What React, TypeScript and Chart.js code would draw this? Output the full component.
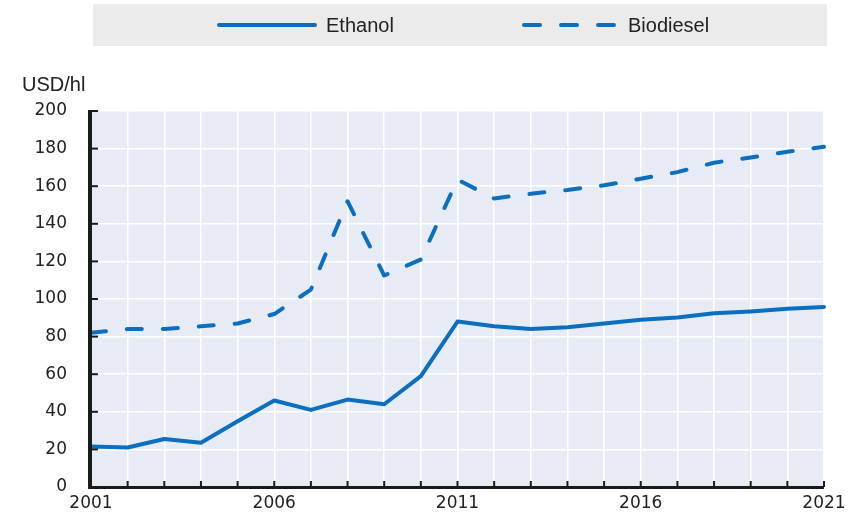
import React, { useEffect, useRef } from "react";
import { Chart, registerables } from "chart.js";

Chart.register(...registerables);

const years: string[] = [
  "2001", "2002", "2003", "2004", "2005", "2006", "2007", "2008", "2009", "2010",
  "2011", "2012", "2013", "2014", "2015", "2016", "2017", "2018", "2019", "2020", "2021",
];
const ethanol: number[] = [
  21.5, 21, 25.5, 23.5, 35, 46, 41, 46.5, 44, 59,
  88, 85.5, 84, 85, 87, 89, 90.2, 92.4, 93.4, 94.8, 95.8,
];
const biodiesel: number[] = [
  82, 84, 84, 85.5, 87, 92, 105, 152, 112.5, 121,
  163.5, 153.5, 156, 158, 160.5, 164, 167.5, 172.5, 175.3, 178.3, 181,
];
const yTicks = { min: 0, max: 200, step: 20 };
const unitLabel = "USD/hl";
const seriesNames = ["Ethanol", "Biodiesel"];

const BLUE = "#0B6EBE";

export default function App() {
  const ref = useRef<HTMLCanvasElement | null>(null);

  useEffect(() => {
    document.body.style.margin = "0";
    const canvas = ref.current;
    if (!canvas) return;

    const bgPlugin = {
      id: "bgPlugin",
      beforeDraw(chart: any) {
        const { ctx, chartArea } = chart;
        ctx.save();
        ctx.fillStyle = "#E7EBF6";
        ctx.fillRect(chartArea.left, chartArea.top, chartArea.right - chartArea.left, chartArea.bottom - chartArea.top);
        ctx.restore();
      },
    };

    const axesPlugin = {
      id: "axesPlugin",
      afterDraw(chart: any) {
        const { ctx, chartArea } = chart;
        const xs = chart.scales.x;
        const ys = chart.scales.y;
        ctx.save();
        ctx.strokeStyle = "#1a1a1a";
        ctx.lineWidth = 2;
        for (let i = 0; i < years.length; i++) {
          const px = xs.getPixelForValue(i);
          ctx.beginPath();
          ctx.moveTo(px, chartArea.bottom);
          ctx.lineTo(px, chartArea.bottom - 6);
          ctx.stroke();
        }
        for (let v = yTicks.min; v <= yTicks.max; v += yTicks.step) {
          const py = ys.getPixelForValue(v);
          ctx.beginPath();
          ctx.moveTo(chartArea.left, py);
          ctx.lineTo(chartArea.left + 7, py);
          ctx.stroke();
        }
        ctx.lineWidth = 4;
        ctx.beginPath();
        ctx.moveTo(chartArea.left - 1, chartArea.top - 1);
        ctx.lineTo(chartArea.left - 1, chartArea.bottom + 2);
        ctx.stroke();
        ctx.lineWidth = 3;
        ctx.beginPath();
        ctx.moveTo(chartArea.left - 3, chartArea.bottom + 0.5);
        ctx.lineTo(chartArea.right, chartArea.bottom + 0.5);
        ctx.stroke();

        ctx.fillStyle = "#222";
        ctx.font = '20px "Liberation Sans", Arial, sans-serif';
        ctx.textAlign = "left";
        ctx.textBaseline = "middle";
        ctx.fillText(unitLabel, 22, 85);

        ctx.fillStyle = "#EBEBEB";
        ctx.fillRect(93, 4, 734, 42);
        const ly = 25;
        ctx.strokeStyle = BLUE;
        ctx.lineWidth = 4;
        ctx.lineCap = "round";
        ctx.setLineDash([]);
        ctx.beginPath();
        ctx.moveTo(219, ly);
        ctx.lineTo(315, ly);
        ctx.stroke();
        ctx.setLineDash([16, 21]);
        ctx.beginPath();
        ctx.moveTo(524, ly);
        ctx.lineTo(617, ly);
        ctx.stroke();
        ctx.setLineDash([]);
        ctx.fillStyle = "#222";
        ctx.fillText(seriesNames[0], 326, ly + 1);
        ctx.fillText(seriesNames[1], 628, ly + 1);
        ctx.restore();
      },
    };

    const chart = new Chart(canvas, {
      type: "line",
      data: {
        labels: years,
        datasets: [
          {
            label: seriesNames[0],
            data: ethanol,
            borderColor: BLUE,
            backgroundColor: BLUE,
            borderWidth: 4,
            pointRadius: 0,
            tension: 0,
            borderCapStyle: "round",
            borderJoinStyle: "round",
          },
          {
            label: seriesNames[1],
            data: biodiesel,
            borderColor: BLUE,
            backgroundColor: BLUE,
            borderWidth: 4,
            pointRadius: 0,
            tension: 0,
            borderDash: [15, 21],
            borderCapStyle: "round",
            borderJoinStyle: "round",
          },
        ],
      },
      options: {
        responsive: false,
        animation: false,
        devicePixelRatio: 1,
        layout: { padding: { top: 111, left: 0, right: 33, bottom: 0 } },
        plugins: {
          legend: { display: false },
          tooltip: { enabled: false },
          title: { display: false },
        },
        scales: {
          x: {
            type: "category",
            offset: false,
            afterFit(scale: any) {
              scale.height = 26;
            },
            grid: {
              color: "#FFFFFF",
              lineWidth: 1.5,
              drawTicks: true,
              tickLength: 6,
              tickColor: "rgba(0,0,0,0)",
            },
            border: { display: false },
            ticks: {
              autoSkip: false,
              maxRotation: 0,
              minRotation: 0,
              padding: 1,
              color: "#222",
              font: { family: '"DejaVu Sans", sans-serif', size: 17, lineHeight: 1.1 },
              callback(_v: any, index: number) {
                return index % 5 === 0 ? years[index] : "";
              },
            },
          },
          y: {
            min: yTicks.min,
            max: yTicks.max,
            afterFit(scale: any) {
              scale.width = 91;
            },
            grid: {
              color: "#FFFFFF",
              lineWidth: 1.5,
              drawTicks: true,
              tickLength: 22,
              tickColor: "rgba(0,0,0,0)",
            },
            border: { display: false },
            ticks: {
              stepSize: yTicks.step,
              padding: 2,
              color: "#222",
              font: { family: '"DejaVu Sans", sans-serif', size: 17 },
            },
          },
        },
      },
      plugins: [bgPlugin, axesPlugin],
    } as any);

    return () => chart.destroy();
  }, []);

  return (
    <div style={{ width: 857, height: 513 }}>
      <canvas ref={ref} width={857} height={513} style={{ display: "block" }} />
    </div>
  );
}
